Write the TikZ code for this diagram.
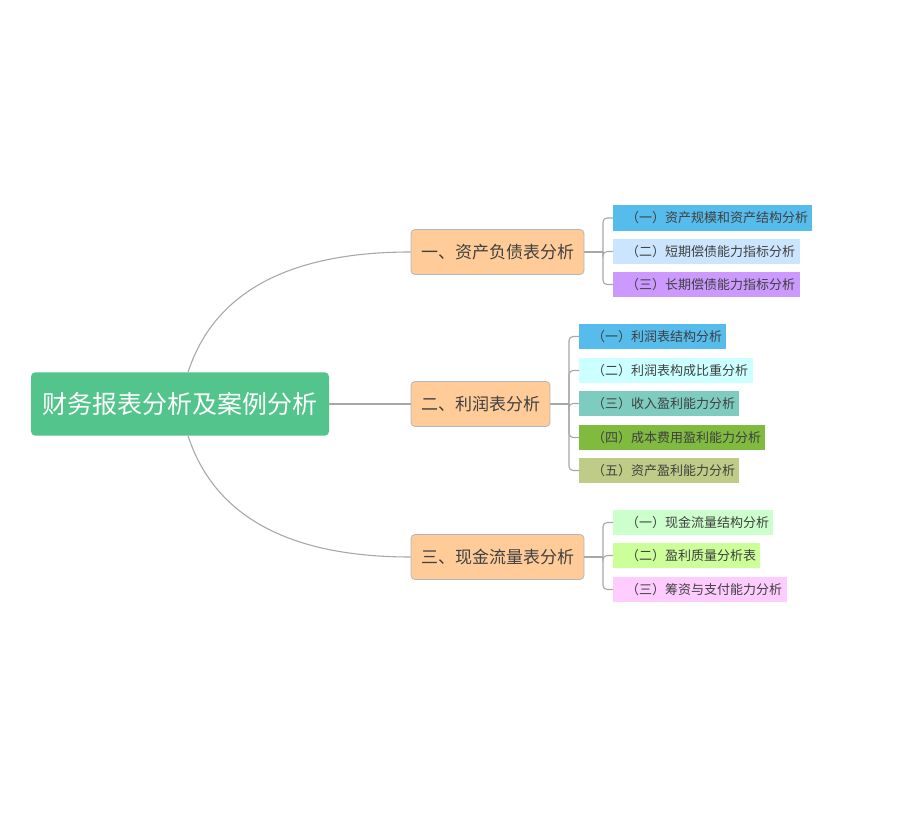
\documentclass[tikz,border=0pt]{standalone}
\usepackage{fontspec}
\setmainfont{Noto Sans CJK SC}
\usetikzlibrary{positioning, calc}

\definecolor{rootgreen}{HTML}{52C48C}
\definecolor{peach}{HTML}{FFCC99}
\definecolor{edgegray}{HTML}{A8A8A8}
\definecolor{boxgray}{HTML}{B5B5B5}
\definecolor{txtgray}{HTML}{404040}
\definecolor{skyblue}{HTML}{56BCEB}
\definecolor{paleblue}{HTML}{CCE5FF}
\definecolor{lilac}{HTML}{CC99FF}
\definecolor{palecyan}{HTML}{CCFFFF}
\definecolor{teal}{HTML}{7ECCC0}
\definecolor{leaf}{HTML}{80BB40}
\definecolor{olive}{HTML}{BFCC88}
\definecolor{mint}{HTML}{CCFFCC}
\definecolor{lime}{HTML}{CCFF99}
\definecolor{pink}{HTML}{FFCCFF}

\begin{document}
\begin{tikzpicture}[x=1pt, y=-1pt,
    link/.style={draw=edgegray, line width=1.1pt},
    rootbox/.style={fill=rootgreen, rounded corners=4pt, text=white,
        minimum width=298pt, minimum height=63pt, inner sep=0pt,
        font=\fontsize{25}{30}\selectfont},
    topic/.style={fill=peach, draw=boxgray, line width=0.8pt, rounded corners=4pt,
        text=txtgray, minimum height=45pt, inner sep=0pt,
        font=\fontsize{17}{20}\selectfont},
    sub/.style={fill=#1, anchor=west, text=txtgray, align=left,
        minimum height=25.5pt, inner xsep=7pt, inner ysep=0pt,
        execute at begin node=\hspace*{6pt},
        font=\fontsize{13}{15}\selectfont}]
    \useasboundingbox (0,0) rectangle (900,818);
    % Root
    \node[rootbox] (root) at (180,404) {财务报表分析及案例分析};
    % Main topics
    \node[topic, minimum width=173pt] (bs) at (497.5,252) {一、资产负债表分析};
    \node[topic, minimum width=139pt] (is) at (480.5,404) {二、利润表分析};
    \node[topic, minimum width=173pt] (cf) at (497.5,557) {三、现金流量表分析};
    % Root links
    \draw[link] ([xshift=8pt]root.north) to[out=72, in=180] (bs.west);
    \draw[link] (root.east) -- (is.west);
    \draw[link] ([xshift=8pt]root.south) to[out=-72, in=180] (cf.west);
    % Balance sheet items
    \node[sub=skyblue, text width=185pt] (bs1) at (613,218) {（一）资产规模和资产结构分析};
    \node[sub=paleblue, text width=173pt] (bs2) at (613,251.5) {（二）短期偿债能力指标分析};
    \node[sub=lilac, text width=173pt] (bs3) at (613,284.5) {（三）长期偿债能力指标分析};
    % Income statement items
    \node[sub=skyblue, text width=133pt] (is1) at (579,336.5) {（一）利润表结构分析};
    \node[sub=palecyan, text width=160pt] (is2) at (579,370.5) {（二）利润表构成比重分析};
    \node[sub=teal, text width=146pt] (is3) at (579,403.5) {（三）收入盈利能力分析};
    \node[sub=leaf, text width=172pt] (is4) at (579,437.5) {（四）成本费用盈利能力分析};
    \node[sub=olive, text width=146pt] (is5) at (579,470.5) {（五）资产盈利能力分析};
    % Cash flow items
    \node[sub=mint, text width=146pt] (cf1) at (613,522.5) {（一）现金流量结构分析};
    \node[sub=lime, text width=133pt] (cf2) at (613,555.5) {（二）盈利质量分析表};
    \node[sub=pink, text width=160pt] (cf3) at (613,589.5) {（三）筹资与支付能力分析};
    % Brackets
    \coordinate (kbs) at (603,252);
    \coordinate (kis) at (569,404);
    \coordinate (kcf) at (603,557);
    \draw[link] (bs.east) -- (kbs);
    \draw[link] (is.east) -- (kis);
    \draw[link] (cf.east) -- (kcf);
    \foreach \c in {bs1,bs2,bs3}
        \draw[link, rounded corners=4pt] (kbs) |- (\c.west);
    \foreach \c in {is1,is2,is3,is4,is5}
        \draw[link, rounded corners=4pt] (kis) |- (\c.west);
    \foreach \c in {cf1,cf2,cf3}
        \draw[link, rounded corners=4pt] (kcf) |- (\c.west);
\end{tikzpicture}
\end{document}
